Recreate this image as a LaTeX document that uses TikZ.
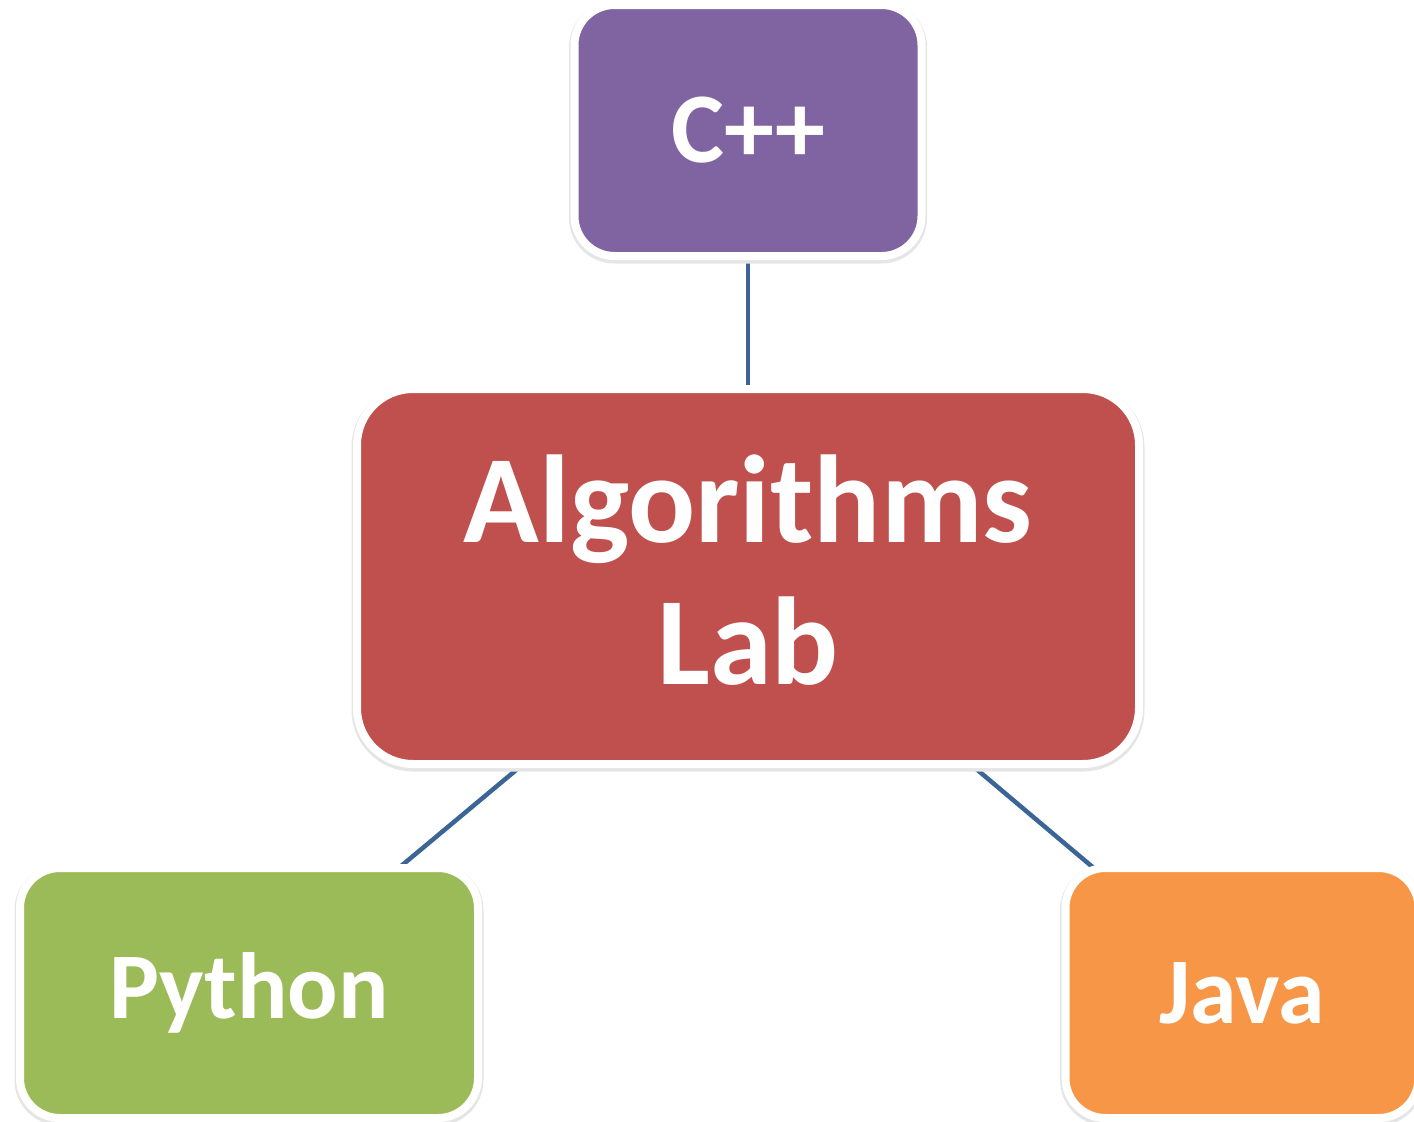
\documentclass[tikz,border=0pt]{standalone}
\usepackage{fontspec}
\setmainfont{Carlito}
\usetikzlibrary{backgrounds}
\definecolor{cpurple}{HTML}{8064A2}
\definecolor{cred}{HTML}{C0504D}
\definecolor{cgreen}{HTML}{9BBB59}
\definecolor{corange}{HTML}{F79646}
\definecolor{clink}{HTML}{3A6596}
\tikzset{
  langbox/.style={draw=white, line width=8pt, rounded corners=40pt,
    inner sep=0pt, align=center, text=white,
    font=\fontsize{94}{110}\selectfont\bfseries,
    preaction={draw=black!10, line width=11pt, transform canvas={yshift=-2pt}}},
  link/.style={draw=clink, line width=4.5pt}
}
\begin{document}
\begin{tikzpicture}[x=1pt,y=-1pt]
\useasboundingbox (0,0) rectangle (1414,1122);
% central box and the three languages around it
\node[langbox, fill=cred, rounded corners=56pt, minimum width=782pt, minimum height=375pt,
      text depth=14pt, font=\fontsize{125}{142}\selectfont\bfseries] (lab) at (748,576.5) {Algorithms\\Lab};
\node[langbox, fill=cpurple, minimum width=347pt, minimum height=251pt,
      font=\fontsize{100}{110}\selectfont\bfseries] (cpp) at (748,130.5) {C++};
\node[langbox, fill=cgreen, minimum width=458pt, minimum height=250pt] (py) at (249,993) {Python};
\node[langbox, fill=corange, minimum width=353pt, minimum height=250pt] (java) at (1242,993) {Java};
% connectors run centre to centre behind the boxes
\begin{scope}[on background layer]
\draw[link] (lab.center) -- (cpp.center);
\draw[link] (lab.center) -- (py.center);
\draw[link] (lab.center) -- (java.center);
\end{scope}
\end{tikzpicture}
\end{document}
